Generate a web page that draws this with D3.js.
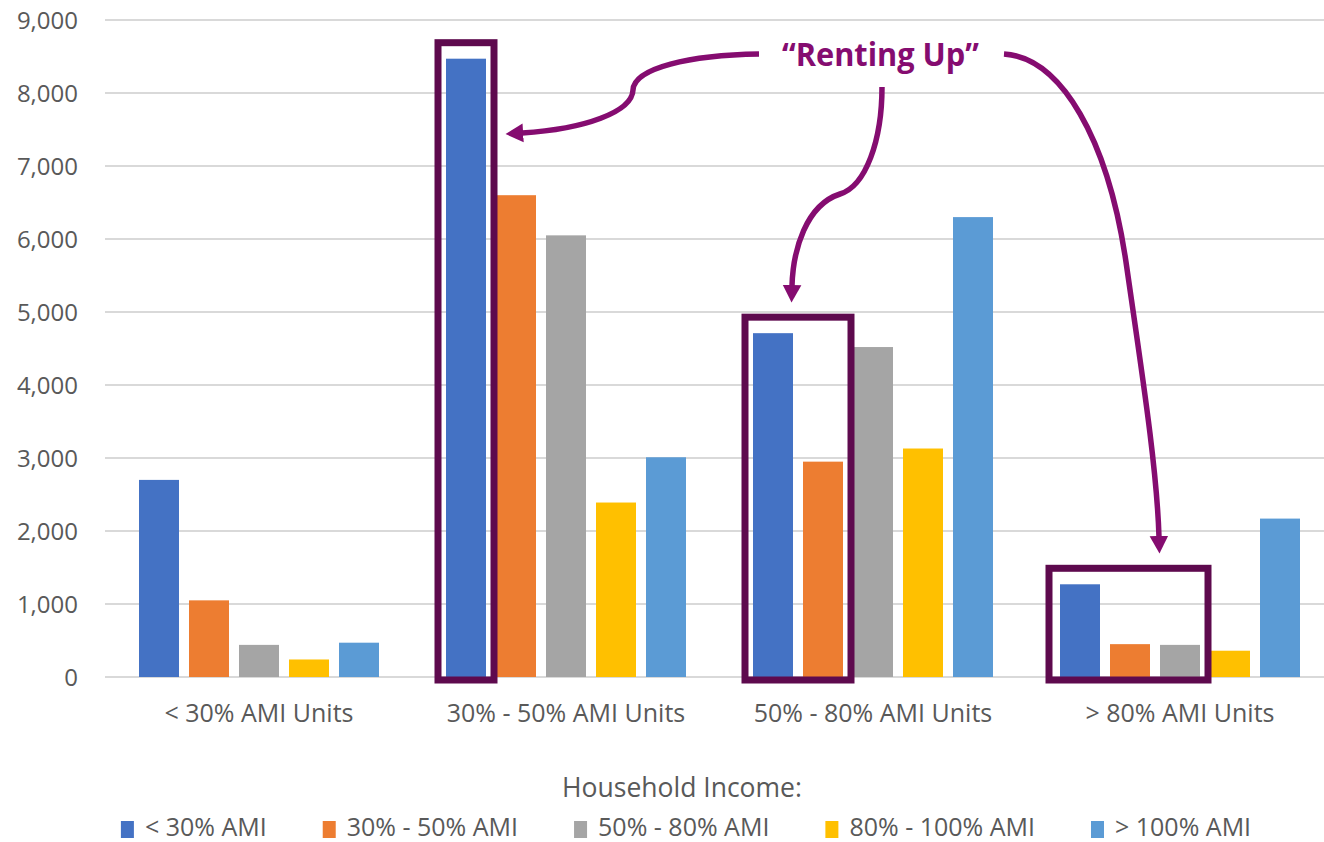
<!DOCTYPE html>
<html>
<head>
<meta charset="utf-8">
<script src="https://cdn.jsdelivr.net/npm/d3@7"></script>
<style>
  html, body { margin: 0; padding: 0; background: #fff; }
  svg { display: block; }
  text { font-family: "Open Sans", "DejaVu Sans", sans-serif; }
</style>
</head>
<body>
<svg id="chart" width="1324" height="842"></svg>
<script>
// Unit categories along the x axis
const categories = ["< 30% AMI Units", "30% - 50% AMI Units", "50% - 80% AMI Units", "> 80% AMI Units"];
// Household income series (legend order)
const seriesNames = ["< 30% AMI", "30% - 50% AMI", "50% - 80% AMI", "80% - 100% AMI", "> 100% AMI"];
const seriesColors = ["#4472C4", "#ED7D31", "#A5A5A5", "#FFC000", "#5B9BD5"];
// Households per unit category, one array per income series
const lt30 = [2700, 8470, 4710, 1270];
const p30to50 = [1050, 6600, 2950, 450];
const p50to80 = [440, 6050, 4520, 440];
const p80to100 = [240, 2390, 3130, 360];
const gt100 = [470, 3010, 6300, 2170];
const seriesValues = [lt30, p30to50, p50to80, p80to100, gt100];
const yTicks = [0, 1000, 2000, 3000, 4000, 5000, 6000, 7000, 8000, 9000];
// "Renting Up" highlights: category index and first/last series index boxed
const highlights = [
  { cat: 1, from: 0, to: 0 },
  { cat: 2, from: 0, to: 1 },
  { cat: 3, from: 0, to: 2 }
];
const calloutText = "\u201CRenting Up\u201D";

const svg = d3.select("#chart");

const x0 = d3.scaleBand().domain(d3.range(categories.length)).range([105.5, 1333.5]).padding(0);
const x1 = d3.scaleBand().domain(d3.range(seriesNames.length)).range([0, x0.bandwidth()])
  .paddingInner(0.2).paddingOuter(0.67);
const y = d3.scaleLinear().domain([0, 9000]).range([677, 20]);

// Gridlines
svg.append("g").selectAll("line").data(yTicks).join("line")
  .attr("x1", 105).attr("x2", 1324)
  .attr("y1", d => y(d)).attr("y2", d => y(d))
  .attr("stroke", "#d9d9d9").attr("stroke-width", 2);

// Y tick labels
svg.append("g").selectAll("text").data(yTicks).join("text")
  .attr("x", 78).attr("y", d => y(d)).attr("dy", "0.36em")
  .attr("text-anchor", "end").attr("fill", "#595959").attr("font-size", 24)
  .text(d3.format(","));

// Bars
const groups = svg.append("g").selectAll("g").data(categories).join("g")
  .attr("transform", (d, i) => `translate(${x0(i)},0)`);
groups.selectAll("rect").data((d, i) => seriesValues.map((vals, s) => ({ s, v: vals[i] }))).join("rect")
  .attr("x", d => x1(d.s)).attr("width", x1.bandwidth())
  .attr("y", d => y(d.v)).attr("height", d => y(0) - y(d.v))
  .attr("fill", d => seriesColors[d.s]);

// Category labels
svg.append("g").selectAll("text").data(categories).join("text")
  .attr("x", (d, i) => x0(i) + x0.bandwidth() / 2).attr("y", 722)
  .attr("text-anchor", "middle").attr("fill", "#595959").attr("font-size", 25)
  .text(d => d);

// Highlight boxes
const boxPad = 8;
const boxTop = d => y(d3.max(d3.range(d.from, d.to + 1), s => seriesValues[s][d.cat])) - 16;
svg.append("g").selectAll("rect").data(highlights).join("rect")
  .attr("x", d => x0(d.cat) + x1(d.from) - boxPad - (d.to > 1 ? 3 : 0))
  .attr("width", d => x1(d.to) - x1(d.from) + x1.bandwidth() + 2 * boxPad + (d.to > 1 ? 3 : 0))
  .attr("y", boxTop)
  .attr("height", d => y(0) + 3 - boxTop(d))
  .attr("fill", "none").attr("stroke", "#5E0A4E").attr("stroke-width", 7);

// Callout arrows
const arrowColor = "#850C70";
const defs = svg.append("defs");
defs.append("marker").attr("id", "head")
  .attr("markerUnits", "userSpaceOnUse").attr("markerWidth", 20).attr("markerHeight", 22)
  .attr("viewBox", "0 -10 18 20").attr("refX", 1).attr("refY", 0).attr("orient", "auto")
  .append("path").attr("d", "M0,-8.5 L16,0 L0,8.5 Z").attr("fill", arrowColor);

const arrowPaths = [
  "M759,54 C690,55 634,68 633,90 C632,112 585,129 522,133",
  "M882,87 C882,140 866,186 840,194 C806,205 793,250 792,286",
  "M1004,54 C1062,58 1108,140 1126,262 C1143,380 1157,470 1159,537"
];
svg.append("g").selectAll("path").data(arrowPaths).join("path")
  .attr("d", d => d).attr("fill", "none").attr("stroke", arrowColor)
  .attr("stroke-width", 5.5).attr("marker-end", "url(#head)");

svg.append("text").attr("x", 782).attr("y", 66)
  .attr("font-size", 33).attr("font-weight", 700).attr("fill", arrowColor)
  .attr("textLength", 197).attr("lengthAdjust", "spacingAndGlyphs")
  .text(calloutText);

// Legend
svg.append("text").attr("x", 682).attr("y", 797).attr("text-anchor", "middle")
  .attr("fill", "#595959").attr("font-size", 26.5).text("Household Income:");

const legendGap = 56;
const legend = svg.append("g");
const items = legend.selectAll("g").data(seriesNames).join("g");
items.append("rect").attr("width", 13).attr("height", 17).attr("y", 821)
  .attr("fill", (d, i) => seriesColors[i]);
items.append("text").attr("x", 24).attr("y", 835.5).attr("fill", "#595959")
  .attr("font-size", 25).text(d => d);
let cursor = 0;
const offsets = [];
items.each(function () {
  const w = 24 + d3.select(this).select("text").node().getComputedTextLength();
  offsets.push(cursor);
  cursor += w + legendGap;
});
const totalW = cursor - legendGap;
const startX = 686 - totalW / 2;
items.attr("transform", (d, i) => `translate(${startX + offsets[i]},0)`);
</script>
</body>
</html>
